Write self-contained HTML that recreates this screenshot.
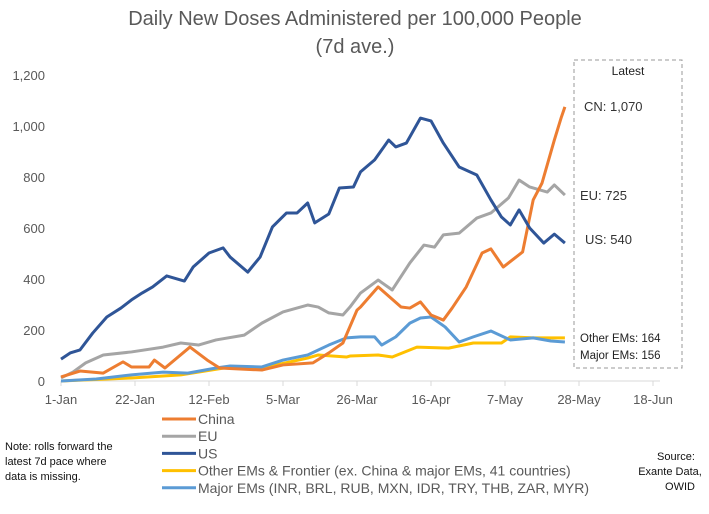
<!DOCTYPE html>
<html><head><meta charset="utf-8"><style>
body{margin:0;background:#fff;font-family:"Liberation Sans",sans-serif;}
svg text{font-family:"Liberation Sans",sans-serif;}
</style></head><body>
<svg id="c" width="709" height="509">
<text x="355" y="25" text-anchor="middle" font-size="20" fill="#595959">Daily New Doses Administered per 100,000 People</text>
<text x="355" y="53" text-anchor="middle" font-size="20" fill="#595959">(7d ave.)</text>
<g id="axes"></g><g id="series"></g>
<rect x="574" y="60" width="108" height="308" fill="none" stroke="#999" stroke-dasharray="4,3"/>
<text x="628" y="75" text-anchor="middle" font-size="12" fill="#222">Latest</text>
<text x="584" y="111" font-size="13" fill="#333">CN: 1,070</text>
<text x="580" y="200" font-size="13" fill="#333">EU: 725</text>
<text x="585" y="244" font-size="13" fill="#333">US: 540</text>
<text x="580" y="342" font-size="11.5" fill="#222">Other EMs: 164</text>
<text x="580" y="359" font-size="11.5" fill="#222">Major EMs: 156</text>
<g id="legend"></g>
<text x="5" y="450" font-size="11" fill="#111"><tspan x="5">Note: rolls forward the</tspan><tspan x="5" dy="15">latest 7d pace where</tspan><tspan x="5" dy="15">data is missing.</tspan></text>
<text x="676" y="460" text-anchor="middle" font-size="11" fill="#111"><tspan x="676">Source:</tspan><tspan x="670" dy="15">Exante Data,</tspan><tspan x="680" dy="15">OWID</tspan></text>
</svg>
<script>
const tickLabels=["1-Jan","22-Jan","12-Feb","5-Mar","26-Mar","16-Apr","7-May","28-May","18-Jun"];
const yTicks=[0,200,400,600,800,1000,1200];
const usDays=[0,2.6,5.4,9,13,17,20,23,26,30,35,37.5,42,46,48,53,56.5,60,64,67,70,72,76,79,83,85,89,93,95,98,102,105,108.5,113,118,122,125,127.5,130,133,137,140,143];
const usVals=[86,110,122,188,251,286,318,345,369,412,392,447,502,522,486,427,486,604,659,659,698,620,655,757,761,820,867,945,918,933,1031,1020,933,839,808,710,643,612,671,600,541,576,541];
const euDays=[0,3.4,7,12,20,29,34,39,44,52,57,63,70,73,76,80,82,85,90,94,99,103,106,108.5,113,118,122,127,130,133,138,140,143];
const euVals=[12,35,71,102,114,133,149,141,161,180,227,271,298,290,267,259,290,345,396,357,463,533,525,573,580,639,659,718,788,761,741,769,729];
const cnDays=[0,5.4,12,17.6,20,25,26.5,29.5,36.6,41.5,45,57,63,71.5,76,80,84,85,90,96.5,99,102,105,108.5,111,115,119.5,122,125.5,131,134,136.5,140,142,143];
const cnVals=[16,39,31,75,55,55,82,51,133,82,51,43,63,71,110,149,278,290,369,290,286,310,259,239,286,369,502,518,447,506,710,776,945,1035,1075];
const mjDays=[0,10,20,29,36,44,48,57,63,70,76,81,85,89,91,95,99,102,105,109,113,117,122,127.5,134,139,143];
const mjVals=[0,8,24,35,31,51,59,55,82,102,141,169,173,173,141,173,227,247,251,212,153,173,196,161,169,157,153];
const otDays=[0,20,34,48,57,70,73,81,82,90,94,101,110,117,125,127.5,134,143];
const otVals=[0,12,24,55,51,90,102,94,98,102,94,133,129,149,149,173,169,169];
const seriesNames=["China","EU","US","Other EMs & Frontier (ex. China & major EMs, 41 countries)","Major EMs (INR, BRL, RUB, MXN, IDR, TRY, THB, ZAR, MYR)"];
const NS="http://www.w3.org/2000/svg";
const x0=61,pxDay=74/21,y0=381,pxVal=51/200;
function xS(d){return x0+d*pxDay;}
function yS(v){return y0-v*pxVal;}
function mk(t,a,p){const e=document.createElementNS(NS,t);for(const k in a)e.setAttribute(k,a[k]);p.appendChild(e);return e;}
const ax=document.getElementById('axes');
const base=mk('line',{x1:x0,x2:660,y1:y0,y2:y0,stroke:'#d9d9d9'},ax);


tickLabels.forEach((l,i)=>{
 const x=xS(i*21);
 const tk=mk('line',{x1:x,x2:x,y1:y0,y2:y0+5,stroke:'#d9d9d9'},ax);
 
 
 const t=mk('text',{x:x,y:y0+23,'text-anchor':'middle','font-size':13,fill:'#595959'},ax);
 t.textContent=l;
 
 
});
yTicks.forEach(v=>{
 const t=mk('text',{x:45,y:yS(v)+5,'text-anchor':'end','font-size':13,fill:'#595959'},ax);
 t.textContent=v.toLocaleString('en-US');
 
 
});
const sg=document.getElementById('series');
function line(days,vals,col,name){
 const p=mk('polyline',{points:days.map((d,i)=>xS(d)+','+yS(vals[i])).join(' '),fill:'none',stroke:col,'stroke-width':3,'stroke-linejoin':'round'},sg);
 
 
}
line(euDays,euVals,'#a5a5a5','eu-line');
line(otDays,otVals,'#ffc000','other-ems-line');
line(mjDays,mjVals,'#5b9bd5','major-ems-line');
line(cnDays,cnVals,'#ed7d31','china-line');
line(usDays,usVals,'#2f5597','us-line');
const lg=document.getElementById('legend');
const cols=['#ed7d31','#a5a5a5','#2f5597','#ffc000','#5b9bd5'];
seriesNames.forEach((n,i)=>{
 const y=419+i*17.2;
 const l=mk('line',{x1:162,x2:196,y1:y,y2:y,stroke:cols[i],'stroke-width':3},lg);
 
 
 const t=mk('text',{x:198,y:y+5,'font-size':14,fill:'#595959'},lg);
 t.textContent=n;
 
 
});
</script>
</body></html>
